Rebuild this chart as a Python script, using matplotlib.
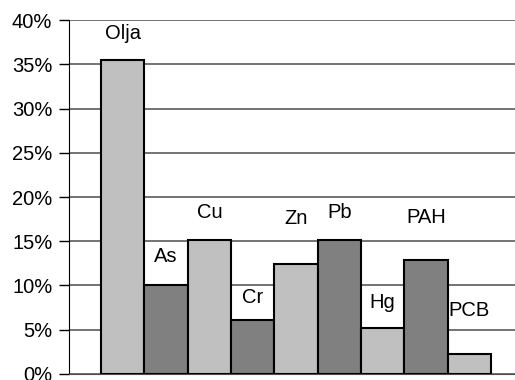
import matplotlib.pyplot as plt
from matplotlib.ticker import PercentFormatter

plt.rcParams['font.family'] = ['Liberation Sans', 'DejaVu Sans']

# share of each pollutant (%)
names = ["Olja", "As", "Cu", "Cr", "Zn", "Pb", "Hg", "PAH", "PCB"]
shares = [35.5, 10.1, 15.1, 6.1, 12.4, 15.1, 5.2, 12.85, 2.25]
colors = ["#c0c0c0", "#808080"] * 5
# heights where the names sit
label_y = [38.5, 13.25, 18.2, 8.6, 17.6, 18.2, 8.1, 17.7, 7.2]

fig = plt.figure(figsize=(5.15, 3.8), dpi=100)
ax = fig.add_axes([0.134, 0.016, 0.87, 0.931])

x = range(len(names))
ax.bar(x, shares, width=1.0, color=colors[:len(names)],
       edgecolor="black", linewidth=1.5, zorder=3)

for i, (n, ly) in enumerate(zip(names, label_y)):
    ax.text(i, ly, n, ha="center", va="center", fontsize=14.5, zorder=4)

ax.set_ylim(0, 40)
ax.set_xlim(-1.24, 9.1)
ax.set_yticks(range(0, 41, 5))
ax.yaxis.set_major_formatter(PercentFormatter(decimals=0))
ax.set_xticks([])
ax.tick_params(axis="y", labelsize=14.5, length=7, width=1, pad=5,
               direction="out")
ax.grid(axis="y", color="#4d4d4d", linewidth=1.1, zorder=0)

for s in ["top", "right"]:
    ax.spines[s].set_visible(False)
ax.spines["bottom"].set_color("#4d4d4d")
ax.spines["left"].set_color("black")

fig.savefig("out.png", dpi=100)
